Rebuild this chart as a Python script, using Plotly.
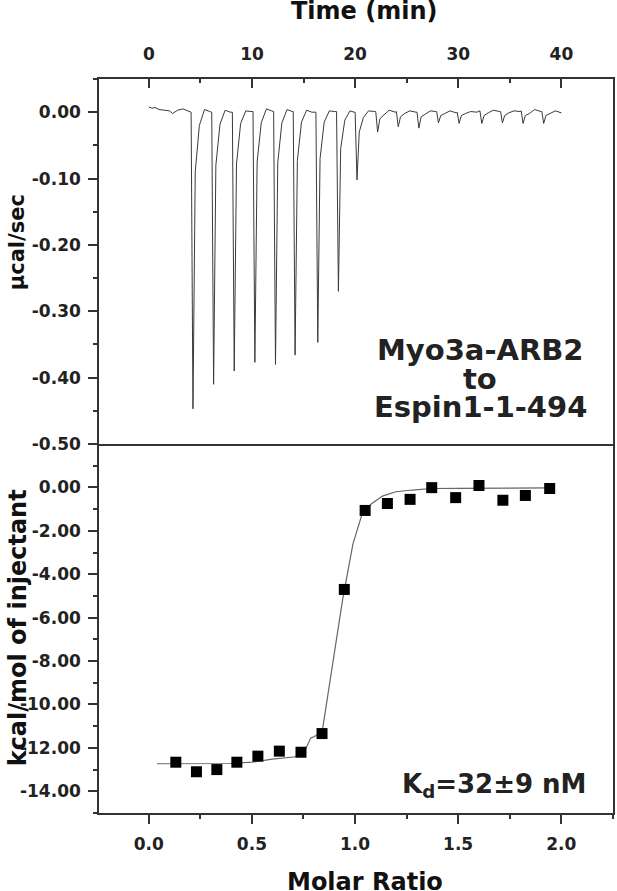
import plotly.graph_objects as go

# raw ITC thermogram (time in min, power in ucal/sec)
raw_time = [0.0, 0.3, 0.6, 1.0, 1.5, 2.0, 2.3, 2.8, 3.3, 3.7, 4.0,
            4.10, 4.28, 4.50, 4.90, 5.40, 5.90,
            6.10, 6.28, 6.50, 6.90, 7.40, 7.90,
            8.10, 8.28, 8.50, 8.90, 9.40, 9.90,
            10.10, 10.28, 10.50, 10.90, 11.40, 11.90,
            12.10, 12.28, 12.50, 12.90, 13.40, 13.90,
            14.00, 14.18, 14.40, 14.80, 15.30, 15.80,
            16.20, 16.38, 16.60, 17.00, 17.50, 18.00,
            18.20, 18.38, 18.60, 19.00, 19.50, 19.90,
            20.00, 20.18, 20.40, 20.80, 21.30, 21.90,
            22.00, 22.18, 22.40, 22.80, 23.30, 23.90,
            24.00, 24.18, 24.40, 24.80, 25.30, 25.90,
            26.00, 26.18, 26.40, 26.80, 27.30, 27.80,
            27.90, 28.08, 28.30, 28.70, 29.20, 29.80,
            29.90, 30.08, 30.30, 30.70, 31.20, 31.80,
            32.10, 32.28, 32.50, 32.90, 33.40, 34.00,
            34.10, 34.28, 34.50, 34.90, 35.40, 36.00,
            36.10, 36.28, 36.50, 36.90, 37.40, 38.00,
            38.10, 38.28, 38.50, 38.90, 39.40, 40.00]
raw_power = [0.008, 0.006, 0.007, 0.004, 0.003, 0.002, -0.002, 0.003, 0.005, 0.002, 0.001,
             0.000, -0.447, -0.090, -0.020, 0.004, 0.001,
             0.000, -0.410, -0.080, -0.018, 0.003, 0.000,
             0.000, -0.390, -0.078, -0.017, 0.002, 0.001,
             0.001, -0.377, -0.075, -0.016, 0.005, 0.002,
             0.001, -0.380, -0.076, -0.016, 0.004, 0.001,
             0.001, -0.366, -0.073, -0.015, 0.003, 0.000,
             0.000, -0.347, -0.070, -0.015, 0.002, 0.001,
             0.001, -0.270, -0.055, -0.012, 0.002, 0.000,
             0.000, -0.102, -0.030, -0.008, 0.002, 0.001,
             0.001, -0.030, -0.010, -0.004, 0.003, 0.000,
             0.001, -0.022, -0.007, -0.002, 0.002, 0.000,
             0.000, -0.024, -0.007, -0.003, 0.002, 0.001,
             0.001, -0.016, -0.005, -0.002, 0.002, -0.001,
             0.000, -0.017, -0.005, -0.002, 0.001, 0.000,
             0.002, -0.017, -0.005, -0.001, 0.003, 0.001,
             0.001, -0.016, -0.005, -0.001, 0.002, 0.001,
             0.002, -0.017, -0.005, -0.002, 0.004, 0.001,
             0.001, -0.017, -0.005, -0.002, 0.002, -0.001]

# integrated heats per injection (lower panel)
molar_ratio = [0.131, 0.231, 0.330, 0.427, 0.529, 0.633, 0.738, 0.840, 0.948,
               1.049, 1.157, 1.267, 1.372, 1.488, 1.601, 1.717, 1.826, 1.944]
heat = [-12.66, -13.10, -13.00, -12.66, -12.38, -12.15, -12.20, -11.34, -4.70,
        -1.06, -0.74, -0.55, -0.01, -0.47, 0.09, -0.59, -0.37, -0.05]

# fitted binding curve
fit_ratio = [0.04, 0.20, 0.40, 0.50, 0.60, 0.70, 0.745, 0.785, 0.84, 0.94, 0.99,
             1.036, 1.08, 1.133, 1.198, 1.278, 1.37, 1.50, 1.70, 1.95]
fit_heat = [-12.73, -12.74, -12.72, -12.66, -12.52, -12.42, -12.37, -11.55, -11.30, -5.16, -2.60,
            -1.17, -0.75, -0.40, -0.20, -0.12, -0.05, -0.04, -0.03, -0.02]

# tick labels
time_ticks = [0, 10, 20, 30, 40]
power_ticks = [0.0, -0.1, -0.2, -0.3, -0.4, -0.5]
power_labels = ["0.00", "-0.10", "-0.20", "-0.30", "-0.40", "-0.50"]
ratio_ticks = [0.0, 0.5, 1.0, 1.5, 2.0]
ratio_labels = ["0.0", "0.5", "1.0", "1.5", "2.0"]
heat_ticks = [0, -2, -4, -6, -8, -10, -12, -14]
heat_labels = ["0.00", "-2.00", "-4.00", "-6.00", "-8.00", "-10.00", "-12.00", "-14.00"]

FONT = "DejaVu Sans"
AX = "#333333"
split = 0.5027

fig = go.Figure()

fig.add_trace(go.Scatter(x=raw_time, y=raw_power, mode="lines",
                         line=dict(color="#3a3a3a", width=1),
                         xaxis="x", yaxis="y", showlegend=False))

fig.add_trace(go.Scatter(x=fit_ratio, y=fit_heat, mode="lines",
                         line=dict(color="#666666", width=1.2),
                         xaxis="x2", yaxis="y2", showlegend=False))
fig.add_trace(go.Scatter(x=molar_ratio, y=heat, mode="markers",
                         marker=dict(symbol="square", size=11, color="black"),
                         xaxis="x2", yaxis="y2", showlegend=False))

tickfont = dict(family=FONT, size=17, color="#222222", weight="bold")
common = dict(showline=True, linecolor=AX, linewidth=1.6, tickcolor=AX,
              tickwidth=1.5, showgrid=False, zeroline=False, tickfont=tickfont)

fig.update_layout(
    width=617, height=891,
    margin=dict(l=99, r=2, t=79, b=78),
    plot_bgcolor="white", paper_bgcolor="white",
    # upper panel
    xaxis=dict(domain=[0, 1], anchor="y", side="top", range=[-4.83, 45.0],
               tickvals=time_ticks, ticks="inside", ticklen=9, mirror=True,
               minor=dict(dtick=5, tick0=0, ticks="inside", ticklen=4, tickcolor=AX),
               ticklabelstandoff=10, **common),
    yaxis=dict(domain=[split, 1], anchor="x", range=[-0.5, 0.05],
               tickvals=power_ticks, ticktext=power_labels, ticks="outside", ticklen=9,
               mirror=True, minor=dict(dtick=0.05, tick0=0, ticks="outside", ticklen=4, tickcolor=AX),
               ticklabelstandoff=4, **common),
    yaxis3=dict(overlaying="y", anchor="x", side="right", range=[-0.5, 0.05],
                tickvals=power_ticks, ticks="inside", ticklen=9, tickwidth=1.5, tickcolor=AX,
                minor=dict(dtick=0.05, tick0=0, ticks="inside", ticklen=4, tickcolor=AX),
                showticklabels=False, showgrid=False, zeroline=False, showline=False),
    # lower panel
    xaxis2=dict(domain=[0, 1], anchor="y2", side="bottom", range=[-0.2415, 2.251],
                tickvals=ratio_ticks, ticktext=ratio_labels, ticks="outside", ticklen=9,
                minor=dict(dtick=0.25, tick0=0, ticks="outside", ticklen=4, tickcolor=AX),
                ticklabelstandoff=6, **common),
    xaxis4=dict(overlaying="x2", anchor="y2", side="top", range=[-0.2415, 2.251],
                dtick=0.25, tick0=0, ticks="inside", ticklen=5, tickwidth=1.5, tickcolor=AX,
                showticklabels=False, showgrid=False, zeroline=False, showline=False),
    yaxis2=dict(domain=[0, split], anchor="x2", range=[-15, 2],
                tickvals=heat_ticks, ticktext=heat_labels, ticks="outside", ticklen=9,
                mirror=True, minor=dict(dtick=1, tick0=0, ticks="outside", ticklen=4, tickcolor=AX),
                ticklabelstandoff=4, **common),
    yaxis4=dict(overlaying="y2", anchor="x2", side="right", range=[-15, 2],
                tickvals=heat_ticks, ticks="inside", ticklen=9, tickwidth=1.5, tickcolor=AX,
                minor=dict(dtick=1, tick0=0, ticks="inside", ticklen=4, tickcolor=AX),
                showticklabels=False, showgrid=False, zeroline=False, showline=False),
)

title_font = dict(family=FONT, size=24, color="#111111", weight="bold")
label_font = dict(family=FONT, size=29, color="#222222", weight="bold")

fig.add_annotation(text="Time (min)", x=0.517, y=1.093, xref="paper", yref="paper",
                   xanchor="center", yanchor="middle", showarrow=False, font=title_font)
fig.add_annotation(text="Molar Ratio", x=0.517, y=-0.072, xref="paper", yref="paper",
                   xanchor="center", yanchor="top", showarrow=False, font=title_font)
fig.add_annotation(text="µcal/sec", x=-0.159, y=0.778, xref="paper", yref="paper",
                   xanchor="center", yanchor="middle", textangle=-90, showarrow=False,
                   font=dict(family=FONT, size=21, color="#111111", weight="bold"))
fig.add_annotation(text="kcal/mol of injectant", x=-0.157, y=0.252, xref="paper", yref="paper",
                   xanchor="center", yanchor="middle", textangle=-90, showarrow=False,
                   font=title_font)

for txt, yy in [("Myo3a-ARB2", 0.6308), ("to", 0.5913), ("Espin1-1-494", 0.5531)]:
    fig.add_annotation(text=txt, x=0.742, y=yy, xref="paper", yref="paper",
                       xanchor="center", yanchor="middle", showarrow=False, font=label_font)

fig.add_annotation(text="K<sub>d</sub>=32±9 nM", x=0.769, y=0.0381, xref="paper", yref="paper",
                   xanchor="center", yanchor="middle", showarrow=False,
                   font=dict(family=FONT, size=26, color="#222222", weight="bold"))

# drop the default page margin so the figure sits at the window's top-left corner
fig.write_html("out.html", config={"displayModeBar": False},
               post_script="document.body.style.margin='0';")
